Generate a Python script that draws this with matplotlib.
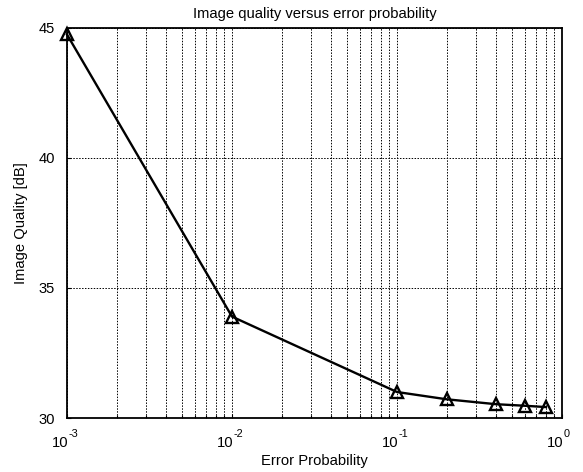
import matplotlib
matplotlib.use("Agg")
import matplotlib.pyplot as plt
from matplotlib.ticker import LogLocator, FixedLocator

plt.rcParams["font.family"] = ["Liberation Sans", "DejaVu Sans"]

# error probability vs. reconstructed image quality
error_prob = [0.001, 0.01, 0.1, 0.2, 0.4, 0.6, 0.8]
quality_db = [44.75, 33.9, 31.0, 30.72, 30.53, 30.47, 30.42]
y_ticks = [30, 35, 40, 45]
x_ticks = [1e-3, 1e-2, 1e-1, 1e0]
x_exponents = ["-3", "-2", "-1", "0"]

fig = plt.figure(figsize=(5.83, 4.72), dpi=100)
ax = fig.add_axes([0.1149, 0.1144, 0.849, 0.8263])

ax.plot(error_prob, quality_db, color="black", linewidth=1.7,
        marker="^", markersize=8.5, markerfacecolor="none",
        markeredgecolor="black", markeredgewidth=1.7, clip_on=False, zorder=5)

ax.set_xscale("log")
ax.set_xlim(1e-3, 1)
ax.set_ylim(30, 45)
ax.xaxis.set_major_locator(FixedLocator(x_ticks))
ax.xaxis.set_minor_locator(LogLocator(base=10, subs=range(2, 10)))
ax.set_xticklabels([""] * len(x_ticks))
ax.set_yticks(y_ticks)

# decade labels drawn as "10" plus a raised exponent
trans = ax.get_xaxis_transform()
for xt, ex in zip(x_ticks, x_exponents):
    ax.annotate("10", xy=(xt, 0), xycoords=trans, xytext=(1, -21),
                textcoords="offset points", ha="right", va="baseline", fontsize=10.6)
    ax.annotate(ex, xy=(xt, 0), xycoords=trans, xytext=(1.2, -13.8),
                textcoords="offset points", ha="left", va="baseline", fontsize=7.8)

ax.grid(which="major", axis="both", color="black", linestyle=(0, (1.5, 1.5)), linewidth=0.7)
ax.grid(which="minor", axis="x", color="black", linestyle=(0, (1.5, 1.5)), linewidth=0.7)
ax.tick_params(which="both", direction="in", length=3, width=0.8, labelsize=10.6)
ax.tick_params(which="minor", length=2)
ax.tick_params(axis="y", pad=8.5)
for spine in ax.spines.values():
    spine.set_linewidth(1.3)

ax.set_title("Image quality versus error probability", fontsize=10.6, pad=7)
ax.set_xlabel("Error Probability", fontsize=10.6, va="top")
ax.xaxis.set_label_coords(0.5, -0.093)
ax.set_ylabel("Image Quality [dB]", fontsize=10.6, va="center")
ax.yaxis.set_label_coords(-0.092, 0.5)

fig.savefig("out.png", dpi=100)
